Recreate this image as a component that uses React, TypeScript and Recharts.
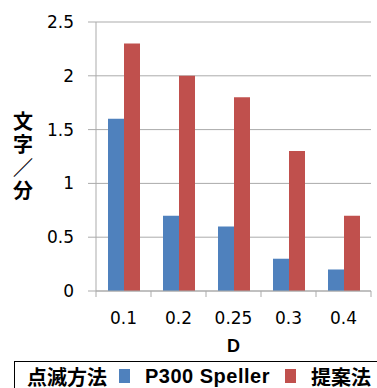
import React from 'react';
import { BarChart, Bar, XAxis, YAxis, CartesianGrid, Legend } from 'recharts';

const categories = ['0.1', '0.2', '0.25', '0.3', '0.4'];
const p300Values = [1.6, 0.7, 0.6, 0.3, 0.2];
const proposedValues = [2.3, 2.0, 1.8, 1.3, 0.7];
const yTicks = [0, 0.5, 1, 1.5, 2, 2.5];
const yLabelChars = ['文', '字', '／', '分'];

const data = categories.map((d, i) => ({ d, p300: p300Values[i], proposed: proposedValues[i] }));

const AXIS_COLOR = '#ababab';
const BLUE = '#4F81BD';
const RED = '#C0504D';
const TICK_FONT = { fontFamily: 'DejaVu Sans', fontSize: 17, fill: '#000' };
const BOLD_FONT = "'Liberation Sans', 'Noto Sans CJK JP', sans-serif";
const X_TICK_SIZE = 6;
const X_TICK_MARGIN = 15;

// Category label plus tick marks on the category boundaries (left edge of each band,
// and the right edge after the last one).
const CategoryTick = (props: any) => {
  const { x, y, payload, index, visibleTicksCount, width } = props;
  const half = width / visibleTicksCount / 2;
  const axisY = y - X_TICK_SIZE - X_TICK_MARGIN;
  const marks = [x - half];
  if (index === visibleTicksCount - 1) marks.push(x + half);
  return (
    <g>
      {marks.map((mx, i) => (
        <line key={i} x1={mx} x2={mx} y1={axisY} y2={axisY + X_TICK_SIZE} stroke={AXIS_COLOR} />
      ))}
      <text x={x} y={y} dy="0.71em" textAnchor="middle" {...TICK_FONT}>
        {payload.value}
      </text>
    </g>
  );
};

const YLabel = (props: any) => {
  const vb = props.viewBox || {};
  const cx = 23;
  const cy = (vb.y ?? 0) + (vb.height ?? 0) / 2;
  const step = 23.3;
  return (
    <text textAnchor="middle" fontFamily={BOLD_FONT} fontWeight="bold" fontSize={20} fill="#000">
      {yLabelChars.map((c, i) => (
        <tspan key={i} x={cx} y={cy + (i - (yLabelChars.length - 1) / 2) * step} dy="0.35em">
          {c}
        </tspan>
      ))}
    </text>
  );
};

const renderLegend = (props: any) => {
  const payload = props.payload || [];
  return (
    <div
      style={{
        display: 'flex',
        alignItems: 'center',
        height: 30,
        boxSizing: 'border-box',
        border: '1px solid #000',
        paddingLeft: 12,
        fontFamily: BOLD_FONT,
        fontWeight: 'bold',
        fontSize: 20,
        color: '#000',
        whiteSpace: 'nowrap',
      }}
    >
      <span style={{ marginRight: 12 }}>点滅方法</span>
      {payload.map((e: any, i: number) => (
        <span key={i} style={{ display: 'inline-flex', alignItems: 'center', marginRight: 15 }}>
          <span style={{ display: 'inline-block', width: 11, height: 14, background: e.color, marginRight: 15 }} />
          <span style={{ letterSpacing: e.value === 'P300 Speller' ? 0.5 : 0 }}>{e.value}</span>
        </span>
      ))}
    </div>
  );
};

export default function App() {
  return (
    <div style={{ position: 'absolute', left: 0, top: 0, width: 377, height: 388, background: '#fff', overflow: 'hidden' }}>
      <BarChart
        width={377}
        height={388}
        data={data}
        margin={{ top: 22, right: 6, left: 0, bottom: 0 }}
        barGap={0}
      >
        <CartesianGrid vertical={false} stroke={AXIS_COLOR} strokeWidth={1} />
        <XAxis
          dataKey="d"
          tick={<CategoryTick />}
          tickLine={false}
          axisLine={{ stroke: AXIS_COLOR }}
          tickSize={X_TICK_SIZE}
          tickMargin={X_TICK_MARGIN}
          height={67}
          interval={0}
          label={{ value: 'D', position: 'insideTop', offset: 48, fontFamily: BOLD_FONT, fontWeight: 'bold', fontSize: 18, fill: '#000' }}
        />
        <YAxis
          domain={[0, 2.5]}
          ticks={yTicks}
          tick={TICK_FONT}
          tickSize={8}
          tickMargin={14}
          width={96}
          tickLine={{ stroke: AXIS_COLOR }}
          axisLine={{ stroke: AXIS_COLOR }}
          interval={0}
          label={<YLabel />}
        />
        <Legend
          verticalAlign="bottom"
          content={renderLegend}
          wrapperStyle={{ position: 'absolute', left: 14, top: 361, width: 380, height: 30 }}
        />
        <Bar dataKey="p300" name="P300 Speller" fill={BLUE} barSize={16} isAnimationActive={false} />
        <Bar dataKey="proposed" name="提案法" fill={RED} barSize={16} isAnimationActive={false} />
      </BarChart>
    </div>
  );
}
